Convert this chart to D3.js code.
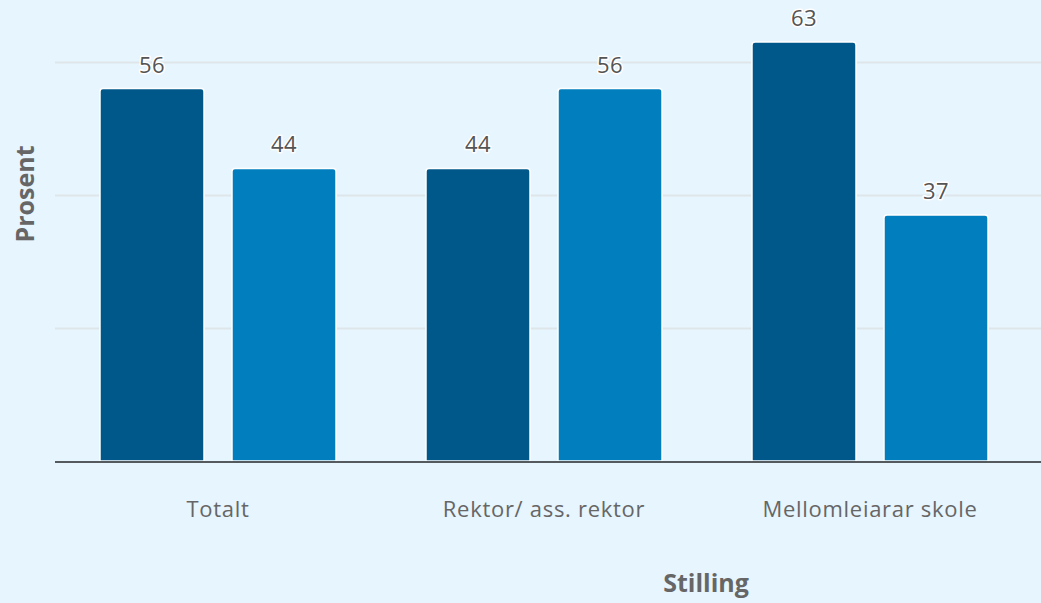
<!DOCTYPE html>
<html>
<head>
<meta charset="utf-8">
<script src="https://cdn.jsdelivr.net/npm/d3@7"></script>
<style>
  html, body { margin: 0; padding: 0; background: #e6f5fe; }
  svg { display: block; }
  text { font-family: "Open Sans", Lato, sans-serif; }
</style>
</head>
<body>
<svg id="chart" width="1041" height="603"></svg>
<script>
// Share (%) by position, two series per category
const categories = ["Totalt", "Rektor/ ass. rektor", "Mellomleiarar skole"];
const seriesNames = ["serie1", "serie2"];
const series1 = [56, 44, 63];
const series2 = [44, 56, 37];
const gridTicks = [20, 40, 60];
const colors = ["#00578a", "#007ebd"];

const W = 1041, H = 603;
const plotLeft = 55;
const groupStep = 326;
const baseY = 461;

const svg = d3.select("#chart");
svg.append("rect").attr("width", W).attr("height", H).attr("fill", "#e6f5fe");

const x0 = d3.scaleBand()
  .domain(categories)
  .range([plotLeft, plotLeft + groupStep * categories.length])
  .paddingInner(0.276)
  .paddingOuter(0.138);

const x1 = d3.scaleBand()
  .domain(seriesNames)
  .range([0, x0.bandwidth()])
  .paddingInner(0.2121)
  .paddingOuter(0);

const y = d3.scaleLinear().domain([0, 60]).range([baseY, 62]);

// gridlines
svg.append("g")
  .selectAll("line")
  .data(gridTicks)
  .join("line")
  .attr("x1", plotLeft).attr("x2", W)
  .attr("y1", d => Math.round(y(d)) + 0.5).attr("y2", d => Math.round(y(d)) + 0.5)
  .attr("stroke", "#dfe6ea").attr("stroke-width", 2);

const rows = categories.map((c, i) => ({ cat: c, vals: [series1[i], series2[i]] }));

const groups = svg.append("g").selectAll("g")
  .data(rows).join("g")
  .attr("transform", d => `translate(${x0(d.cat)},0)`);

const bars = groups.selectAll("g")
  .data(d => d.vals.map((v, j) => ({ key: seriesNames[j], v, j })))
  .join("g");

bars.append("path")
  .attr("d", d => {
    const bx = x1(d.key), bw = x1.bandwidth(), top = y(d.v), r = 3;
    const bottom = baseY;
    return `M${bx},${bottom} L${bx},${top + r} Q${bx},${top} ${bx + r},${top}
            L${bx + bw - r},${top} Q${bx + bw},${top} ${bx + bw},${top + r} L${bx + bw},${bottom} Z`;
  })
  .attr("fill", d => colors[d.j])
  .attr("stroke", "#ffffff").attr("stroke-width", 1.5);

bars.append("text")
  .attr("x", d => x1(d.key) + x1.bandwidth() / 2)
  .attr("y", d => y(d.v) - 16)
  .attr("text-anchor", "middle")
  .attr("font-size", 22)
  .attr("letter-spacing", 0.5)
  .attr("fill", "#555555")
  .attr("stroke", "#ffffff").attr("stroke-width", 3).attr("paint-order", "stroke")
  .attr("stroke-linejoin", "round")
  .text(d => d.v);

// baseline
svg.append("line")
  .attr("x1", plotLeft).attr("x2", W)
  .attr("y1", baseY + 1).attr("y2", baseY + 1)
  .attr("stroke", "#555a5e").attr("stroke-width", 2);

// category labels
const xAxis = d3.axisBottom(x0).tickSize(0).tickPadding(0);
const gx = svg.append("g").attr("transform", `translate(0,${baseY})`).call(xAxis);
gx.select(".domain").remove();
gx.selectAll("text")
  .attr("y", 56)
  .attr("dy", 0)
  .attr("font-size", 22)
  .attr("letter-spacing", 0.7)
  .attr("font-family", "'Open Sans', Lato, sans-serif")
  .attr("fill", "#666666");

// axis titles
svg.append("text")
  .attr("x", 706).attr("y", 592)
  .attr("text-anchor", "middle")
  .attr("font-size", 25).attr("font-weight", "bold")
  .attr("fill", "#666666")
  .text("Stilling");

svg.append("text")
  .attr("transform", "translate(34,194) rotate(-90)")
  .attr("text-anchor", "middle")
  .attr("font-size", 25).attr("font-weight", "bold")
  .attr("fill", "#666666")
  .text("Prosent");
</script>
</body>
</html>
